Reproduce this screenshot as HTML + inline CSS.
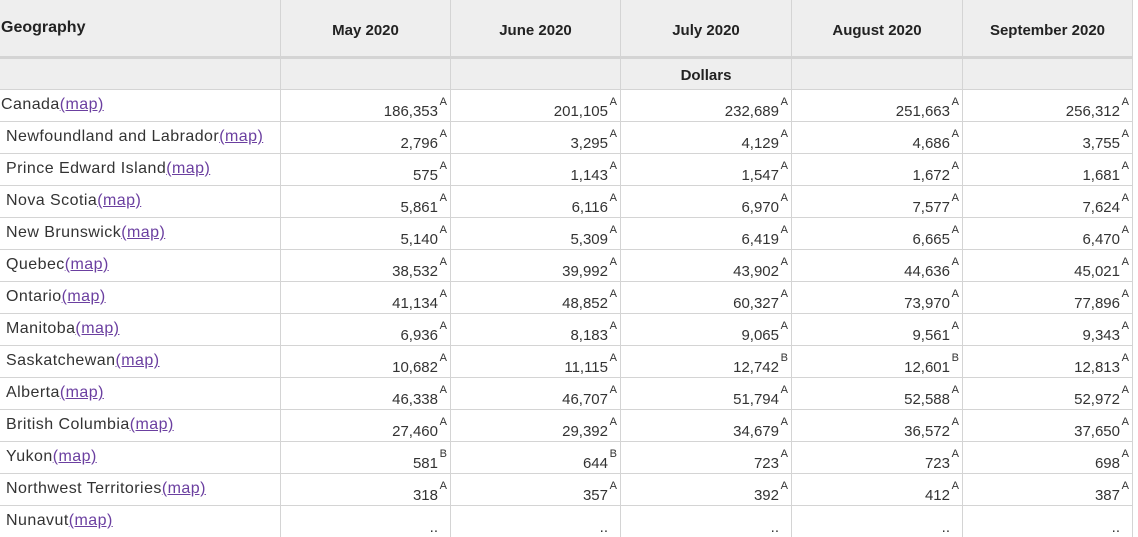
<!DOCTYPE html>
<html><head><meta charset="utf-8"><style>
body{margin:0;background:#fff;width:1138px;height:537px;overflow:hidden;font-family:"Liberation Sans",sans-serif;color:#333;}
.g{position:absolute;left:0;top:0;display:grid;grid-template-columns:280px 169px 169px 170px 170px 169px;grid-template-rows:58px 30px repeat(14,31px);gap:1px;background:#d4d4d4;border-right:1px solid #d4d4d4;}
.g>div{background:#fff;box-sizing:border-box;font-size:15px;white-space:nowrap;}
.h{background:#eee!important;font-weight:bold;color:#222;text-align:center;padding-top:22px;border-bottom:2px solid #d4d4d4;}
.h.l{text-align:left;padding-top:19px;padding-left:1px;font-size:16px!important;}
.d{background:#eee!important;font-weight:bold;text-align:center;padding-top:8px;color:#222;}
.n{padding:6px 0 0 6px;font-size:16px!important;letter-spacing:0.45px;}
.n.c{padding-left:1px;}
.n a{color:#6b3fa0;text-decoration:underline;}
.v{text-align:right;padding:13px 12px 0 0;position:relative;}
.v sup{position:absolute;right:3px;top:6px;font-size:11px;}
</style></head><body>
<div class="g">
<div class="h l">Geography</div><div class="h">May 2020</div><div class="h">June 2020</div><div class="h">July 2020</div><div class="h">August 2020</div><div class="h">September 2020</div>
<div class="d"></div><div class="d"></div><div class="d"></div><div class="d">Dollars</div><div class="d"></div><div class="d"></div>
<div class="n c">Canada<a>(map)</a></div><div class="v">186,353<sup>A</sup></div><div class="v">201,105<sup>A</sup></div><div class="v">232,689<sup>A</sup></div><div class="v">251,663<sup>A</sup></div><div class="v">256,312<sup>A</sup></div>
<div class="n">Newfoundland and Labrador<a>(map)</a></div><div class="v">2,796<sup>A</sup></div><div class="v">3,295<sup>A</sup></div><div class="v">4,129<sup>A</sup></div><div class="v">4,686<sup>A</sup></div><div class="v">3,755<sup>A</sup></div>
<div class="n">Prince Edward Island<a>(map)</a></div><div class="v">575<sup>A</sup></div><div class="v">1,143<sup>A</sup></div><div class="v">1,547<sup>A</sup></div><div class="v">1,672<sup>A</sup></div><div class="v">1,681<sup>A</sup></div>
<div class="n">Nova Scotia<a>(map)</a></div><div class="v">5,861<sup>A</sup></div><div class="v">6,116<sup>A</sup></div><div class="v">6,970<sup>A</sup></div><div class="v">7,577<sup>A</sup></div><div class="v">7,624<sup>A</sup></div>
<div class="n">New Brunswick<a>(map)</a></div><div class="v">5,140<sup>A</sup></div><div class="v">5,309<sup>A</sup></div><div class="v">6,419<sup>A</sup></div><div class="v">6,665<sup>A</sup></div><div class="v">6,470<sup>A</sup></div>
<div class="n">Quebec<a>(map)</a></div><div class="v">38,532<sup>A</sup></div><div class="v">39,992<sup>A</sup></div><div class="v">43,902<sup>A</sup></div><div class="v">44,636<sup>A</sup></div><div class="v">45,021<sup>A</sup></div>
<div class="n">Ontario<a>(map)</a></div><div class="v">41,134<sup>A</sup></div><div class="v">48,852<sup>A</sup></div><div class="v">60,327<sup>A</sup></div><div class="v">73,970<sup>A</sup></div><div class="v">77,896<sup>A</sup></div>
<div class="n">Manitoba<a>(map)</a></div><div class="v">6,936<sup>A</sup></div><div class="v">8,183<sup>A</sup></div><div class="v">9,065<sup>A</sup></div><div class="v">9,561<sup>A</sup></div><div class="v">9,343<sup>A</sup></div>
<div class="n">Saskatchewan<a>(map)</a></div><div class="v">10,682<sup>A</sup></div><div class="v">11,115<sup>A</sup></div><div class="v">12,742<sup>B</sup></div><div class="v">12,601<sup>B</sup></div><div class="v">12,813<sup>A</sup></div>
<div class="n">Alberta<a>(map)</a></div><div class="v">46,338<sup>A</sup></div><div class="v">46,707<sup>A</sup></div><div class="v">51,794<sup>A</sup></div><div class="v">52,588<sup>A</sup></div><div class="v">52,972<sup>A</sup></div>
<div class="n">British Columbia<a>(map)</a></div><div class="v">27,460<sup>A</sup></div><div class="v">29,392<sup>A</sup></div><div class="v">34,679<sup>A</sup></div><div class="v">36,572<sup>A</sup></div><div class="v">37,650<sup>A</sup></div>
<div class="n">Yukon<a>(map)</a></div><div class="v">581<sup>B</sup></div><div class="v">644<sup>B</sup></div><div class="v">723<sup>A</sup></div><div class="v">723<sup>A</sup></div><div class="v">698<sup>A</sup></div>
<div class="n">Northwest Territories<a>(map)</a></div><div class="v">318<sup>A</sup></div><div class="v">357<sup>A</sup></div><div class="v">392<sup>A</sup></div><div class="v">412<sup>A</sup></div><div class="v">387<sup>A</sup></div>
<div class="n">Nunavut<a>(map)</a></div><div class="v">..</div><div class="v">..</div><div class="v">..</div><div class="v">..</div><div class="v">..</div>
</div>
</body></html>
